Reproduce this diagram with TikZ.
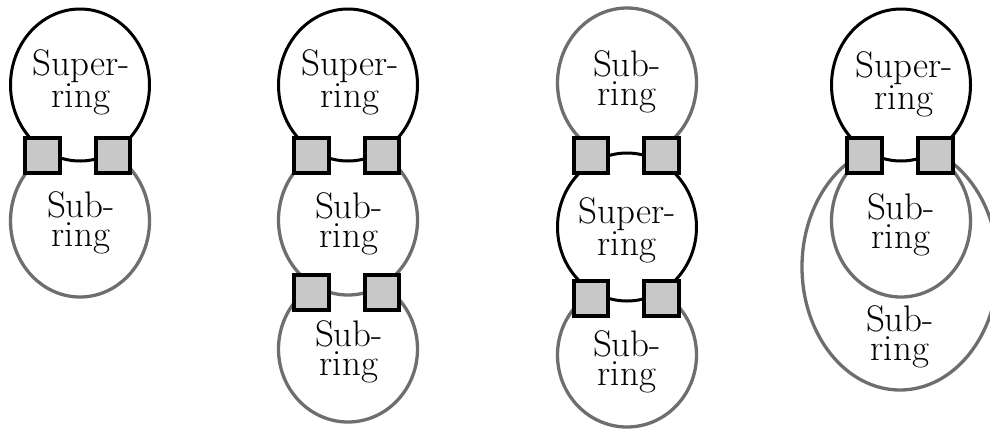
\documentclass[tikz,border=0pt]{standalone}
\usepackage{fontspec}
\usetikzlibrary{shapes.geometric}
\definecolor{ringgray}{RGB}{110,110,110}
\definecolor{portfill}{RGB}{200,200,200}
\tikzset{
  ring/.style={ellipse, inner sep=0pt, outer sep=0pt, fill=white,
    minimum width=139pt, minimum height=152pt},
  superring/.style={ring, draw=black, line width=3pt},
  subring/.style={ring, draw=ringgray, line width=3.3pt},
  port/.style={rectangle, draw=black, fill=portfill, line width=4pt,
    minimum size=34.5pt, inner sep=0pt},
  ringtext/.style={align=center, inner sep=0pt,
    font=\fontsize{37}{29}\selectfont}
}
\begin{document}
\begin{tikzpicture}[x=1pt,y=-1pt]
\useasboundingbox (0,0) rectangle (990,432);
\clip (0,0) rectangle (990,432);

% Panel 1
\node[subring] (p1sub) at (80,221) {};
\node[superring] (p1sup) at (80,85) {};
\node[port] (p1a) at (42.5,155.5) {};
\node[port] (p1b) at (113,155.5) {};
\node[ringtext] (p1t1) at (81,82) {Super-\\ring};
\node[ringtext] (p1t2) at (81,223) {Sub-\\ring};

% Panel 2
\node[subring, minimum height=146pt] (p2sub2) at (348,349) {};
\node[subring, minimum height=150pt] (p2sub1) at (348,220) {};
\node[superring] (p2sup) at (348,85) {};
\node[port] (p2a) at (311.5,155.5) {};
\node[port] (p2b) at (382,155.5) {};
\node[port] (p2c) at (311.5,292.5) {};
\node[port] (p2d) at (382,292.5) {};
\node[ringtext] (p2t1) at (350,82) {Super-\\ring};
\node[ringtext] (p2t2) at (349,224) {Sub-\\ring};
\node[ringtext] (p2t3) at (349,352) {Sub-\\ring};

% Panel 3
\node[subring, minimum height=150pt] (p3sub1) at (627,83) {};
\node[subring, minimum height=144pt] (p3sub2) at (627,355) {};
\node[superring, minimum height=148pt] (p3sup) at (627,227) {};
\node[port] (p3a) at (591,155.5) {};
\node[port] (p3b) at (661.5,155.5) {};
\node[port] (p3c) at (591,298.3) {};
\node[port] (p3d) at (661.5,298.3) {};
\node[ringtext] (p3t1) at (627,82) {Sub-\\ring};
\node[ringtext] (p3t2) at (627,230) {Super-\\ring};
\node[ringtext] (p3t3) at (627,362) {Sub-\\ring};

% Panel 4
\node[subring, minimum width=196pt, minimum height=246pt] (p4big) at (900,267) {};
\node[subring] (p4small) at (901,221) {};
\node[superring] (p4sup) at (901,85) {};
\node[port] (p4a) at (864.5,155.5) {};
\node[port] (p4b) at (935.5,155.5) {};
\node[ringtext] (p4t1) at (904,84) {Super-\\ring};
\node[ringtext] (p4t2) at (901,225) {Sub-\\ring};
\node[ringtext] (p4t3) at (900,337) {Sub-\\ring};
\end{tikzpicture}
\end{document}
